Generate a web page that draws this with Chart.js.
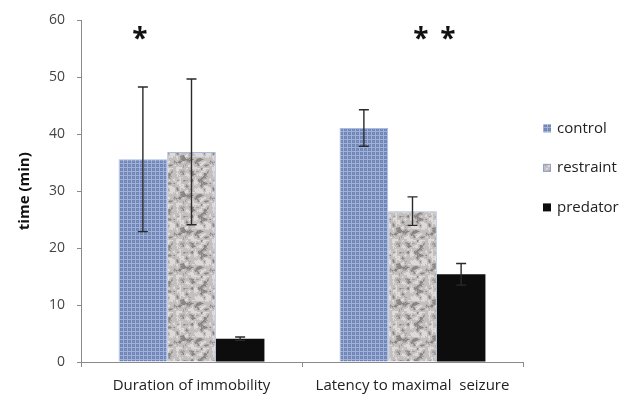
<!DOCTYPE html>
<html><head><meta charset="utf-8">
<script src="https://cdn.jsdelivr.net/npm/chart.js@4/dist/chart.umd.min.js"></script>
<style>html,body{margin:0;padding:0;background:#fff;}</style>
</head><body>
<canvas id="c" width="629" height="396"></canvas>
<script>
// ---- data ----
const categories = ["Duration of immobility", "Latency to maximal  seizure"];
const seriesNames = ["control", "restraint", "predator"];
const controlValues = [35.6, 41.1];
const controlErrors = [12.7, 3.2];
const restraintValues = [36.9, 26.5];
const restraintErrors = [12.8, 2.5];
const predatorValues = [4.1, 15.4];
const predatorErrors = [0.3, 1.9];
const significance = ["*", "* *"];
const yTicks = [0, 10, 20, 30, 40, 50, 60];

// ---- fill patterns (deterministic textures) ----
function h2(x, y, s) {
  let h = Math.imul(x, 374761393) ^ Math.imul(y, 668265263) ^ Math.imul(s, 982451653);
  h = Math.imul(h ^ (h >>> 13), 1274126177);
  return ((h ^ (h >>> 16)) >>> 0) / 4294967296;
}
function makeBlue() {
  const c = document.createElement('canvas'); c.width = 4; c.height = 4;
  const g = c.getContext('2d');
  g.fillStyle = '#6e85b8'; g.fillRect(0, 0, 4, 4);
  g.fillStyle = '#a2b1d5'; g.fillRect(0, 3, 4, 1); g.fillRect(3, 0, 1, 4);
  g.fillStyle = '#8197c6'; g.fillRect(1, 1, 1, 1);
  return g.createPattern(c, 'repeat');
}
function makeGranite() {
  const N = 36, S = 3, G = N / S;
  const c = document.createElement('canvas'); c.width = N; c.height = N;
  const g = c.getContext('2d');
  const val = (i, j) => h2(((i % G) + G) % G, ((j % G) + G) % G, 11);
  for (let y = 0; y < N; y++) for (let x = 0; x < N; x++) {
    const fx = x / S, fy = y / S, i = Math.floor(fx), j = Math.floor(fy);
    const tx = fx - i, ty = fy - j;
    const v = (val(i, j) * (1 - tx) + val(i + 1, j) * tx) * (1 - ty) + (val(i, j + 1) * (1 - tx) + val(i + 1, j + 1) * tx) * ty;
    const w = h2(x, y, 5) * 0.18;
    const t = v + w;
    let col;
    if (t < 0.36) col = '#8a8585';
    else if (t < 0.48) col = '#a6a1a1';
    else if (t < 0.8) col = '#c4bfbf';
    else col = '#dedada';
    g.fillStyle = col;
    g.fillRect(x, y, 1, 1);
  }
  return g.createPattern(c, 'repeat');
}
const ctx = document.getElementById('c').getContext('2d');
const blueFill = makeBlue();
const grayFill = makeGranite();

const errorSets = [controlErrors, restraintErrors, predatorErrors];

const errorBarPlugin = {
  id: 'errorBars',
  afterDatasetsDraw(chart) {
    const c = chart.ctx, ys = chart.scales.y;
    c.save();
    c.strokeStyle = '#2a2a2a'; c.lineWidth = 1.4;
    chart.data.datasets.forEach((ds, di) => {
      const meta = chart.getDatasetMeta(di);
      meta.data.forEach((bar, i) => {
        const v = ds.data[i], e = errorSets[di][i];
        const yt = ys.getPixelForValue(v + e), yb = ys.getPixelForValue(v - e);
        const x = bar.x, cap = 5;
        c.beginPath();
        c.moveTo(x, yt); c.lineTo(x, yb);
        c.moveTo(x - cap, yt); c.lineTo(x + cap, yt);
        c.moveTo(x - cap, yb); c.lineTo(x + cap, yb);
        c.stroke();
      });
    });
    c.restore();
  }
};

const starPlugin = {
  id: 'stars',
  afterDatasetsDraw(chart, args, opts) {
    const c = chart.ctx, ys = chart.scales.y;
    c.save();
    c.fillStyle = '#111';
    c.font = 'bold 28px "Open Sans"';
    c.textAlign = 'center'; c.textBaseline = 'alphabetic';
    significance.forEach((s, i) => {
      const bar = chart.getDatasetMeta(opts.anchorDataset[i]).data[i];
      const parts = s.split(' ');
      const x0 = bar.x + opts.dx[i] - (parts.length - 1) * opts.gap / 2;
      parts.forEach((p, k) => c.fillText(p, x0 + k * opts.gap, ys.getPixelForValue(opts.level)));
    });
    c.restore();
  }
};

const legendPlugin = {
  id: 'sideLegend',
  afterDraw(chart) {
    const c = chart.ctx, a = chart.chartArea;
    c.save();
    c.font = '15px "Open Sans"'; c.textBaseline = 'middle'; c.textAlign = 'left';
    chart.data.datasets.forEach((ds, i) => {
      const y = a.top + 108 + i * 39.5, x = a.right + 20;
      c.fillStyle = ds.backgroundColor;
      c.fillRect(x, y - 4, 8, 8);
      if (i === 1) { c.strokeStyle = '#8fa3cc'; c.lineWidth = 1; c.strokeRect(x + 0.5, y - 3.5, 7, 7); }
      c.fillStyle = '#222';
      c.fillText(ds.label, x + 14, y);
    });
    c.restore();
  }
};

new Chart(ctx, {
  type: 'bar',
  data: {
    labels: categories,
    datasets: [
      { label: seriesNames[0], data: controlValues, backgroundColor: blueFill, borderColor: '#a8bbe0', borderWidth: 1 },
      { label: seriesNames[1], data: restraintValues, backgroundColor: grayFill, borderColor: '#a8bbe0', borderWidth: 1 },
      { label: seriesNames[2], data: predatorValues, backgroundColor: '#0d0d0d', borderColor: '#0d0d0d', borderWidth: 0 }
    ]
  },
  options: {
    responsive: false,
    animation: false,
    layout: { padding: { top: 15, right: 106, left: 0, bottom: 0 } },
    datasets: { bar: { categoryPercentage: 0.66, barPercentage: 1 } },
    plugins: {
      legend: { display: false },
      tooltip: { enabled: false },
      stars: { anchorDataset: [0, 1], dx: [-3, 22], level: 55.1, gap: 27 }
    },
    scales: {
      x: {
        grid: { display: true, drawOnChartArea: false, drawTicks: true, tickLength: 5, color: '#8a8a8a', offset: true },
        border: { color: '#8a8a8a', width: 1 },
        ticks: { color: '#222', font: { family: 'Open Sans', size: 15 }, padding: 10, maxRotation: 0, autoSkip: false },
        afterFit(s) { s.height = 34; }
      },
      y: {
        min: 0, max: 60,
        afterBuildTicks(s) { s.ticks = yTicks.map(v => ({ value: v })); },
        ticks: { color: '#444', font: { family: 'Open Sans', size: 14 }, padding: 12 },
        grid: { drawOnChartArea: false, drawTicks: true, tickLength: 4, color: '#8a8a8a' },
        border: { color: '#8a8a8a', width: 1 },
        title: { display: true, text: 'time (min)', color: '#111', font: { family: 'Open Sans', size: 15, weight: 'bold' }, padding: { top: 16, bottom: 0 } },
        afterFit(s) { s.width = 81; }
      }
    }
  },
  plugins: [errorBarPlugin, starPlugin, legendPlugin]
});
</script>
</body></html>
